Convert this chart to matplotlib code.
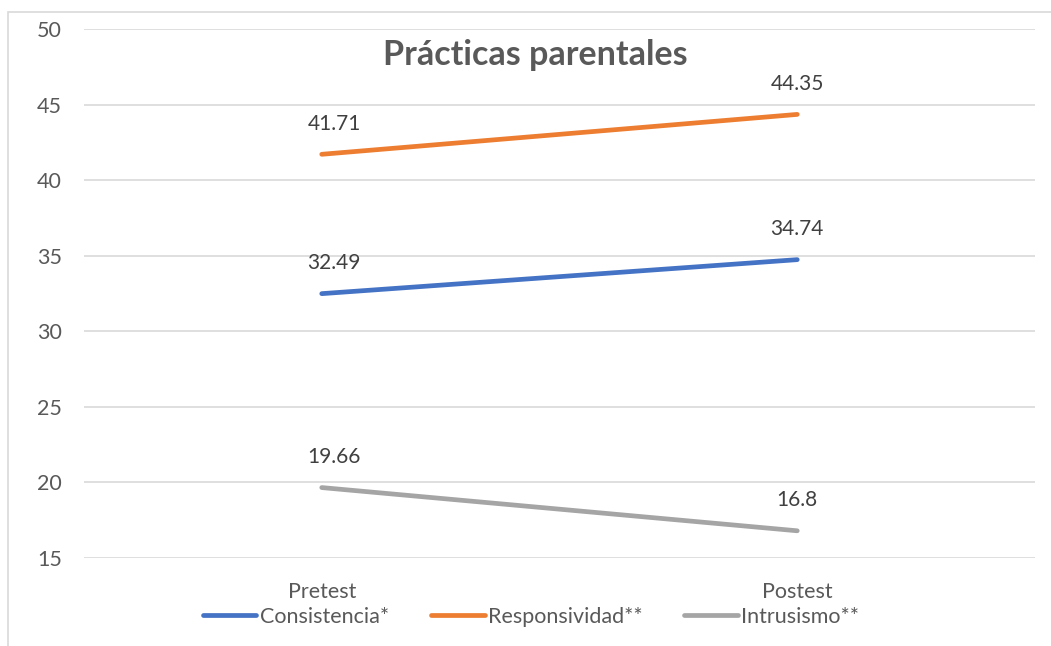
import matplotlib
matplotlib.use("Agg")
import matplotlib.pyplot as plt
from matplotlib.lines import Line2D
from matplotlib.patches import Rectangle

categories = ["Pretest", "Postest"]
series_names = ["Consistencia*", "Responsividad**", "Intrusismo**"]
consistencia = [32.49, 34.74]
responsividad = [41.71, 44.35]
intrusismo = [19.66, 16.8]
value_labels = [["32.49", "34.74"], ["41.71", "44.35"], ["19.66", "16.8"]]
y_ticks = [15, 20, 25, 30, 35, 40, 45, 50]

COLORS = ["#4472C4", "#ED7D31", "#A5A5A5"]
TEXT = "#595959"
LABEL = "#404040"
GRID = "#D9D9D9"

plt.rcParams["font.family"] = ["Lato", "DejaVu Sans"]

W, H = 1051, 646
fig = plt.figure(figsize=(W / 100, H / 100), dpi=100)
ax = fig.add_axes([84 / W, 1 - 558 / H, (1035 - 84) / W, (558 - 29) / H])

# chart border (only left/top edges are visible in the crop)
fig.add_artist(Rectangle((8 / W, -0.1), 1.2, 1 - 12 / H + 0.1, transform=fig.transFigure,
                         fill=False, edgecolor="#D9D9D9", linewidth=1.2))

x = list(range(len(categories)))
all_series = [consistencia, responsividad, intrusismo]
for vals, color, labs in zip(all_series, COLORS, value_labels):
    ax.plot(x, vals, color=color, linewidth=3.4, solid_capstyle="round", zorder=3)
    for i, (v, t) in enumerate(zip(vals, labs)):
        dx = 9 if i == 0 else 0
        ax.annotate(t, (i, v), xytext=(dx, 22), textcoords="offset points",
                    ha="center", va="center", fontsize=15, color=LABEL)

ax.set_xlim(-0.5, 1.5)
ax.set_ylim(15, 50)
ax.set_yticks(y_ticks)
ax.set_xticks(x)
ax.set_xticklabels(categories)
ax.tick_params(axis="both", length=0, labelsize=15.5, labelcolor=TEXT)
ax.tick_params(axis="y", pad=16)
ax.tick_params(axis="x", pad=17)
ax.grid(axis="y", color=GRID, linewidth=1.2)
ax.set_axisbelow(True)
for s in ax.spines.values():
    s.set_visible(False)

fig.text(535 / W, 1 - 55 / H, "Prácticas parentales", ha="center", va="center",
         fontsize=24.5, fontweight="bold", color=TEXT)

handles = [Line2D([], [], color=c, linewidth=3.4, solid_capstyle="round") for c in COLORS]
fig.legend(handles, series_names, loc="center", bbox_to_anchor=(531 / W, 1 - 617 / H),
           ncol=3, frameon=False, fontsize=15.5, labelcolor=TEXT, handlelength=2.5,
           handletextpad=0.15, columnspacing=1.95)

fig.savefig("out.png", dpi=100)
